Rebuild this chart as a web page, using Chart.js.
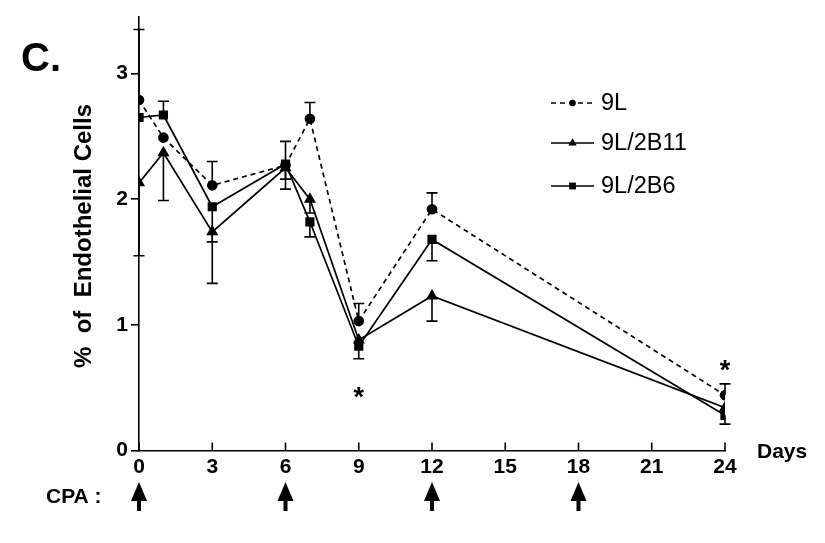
<!DOCTYPE html>
<html>
<head>
<meta charset="utf-8">
<script src="https://cdn.jsdelivr.net/npm/chart.js@4.4.0/dist/chart.umd.min.js"></script>
<style>html,body{margin:0;padding:0;background:#fff}canvas{display:block}</style>
</head>
<body>
<canvas id="c" width="825" height="543"></canvas>
<script>
/* Endothelial cells over CPA schedule, panel C */
const days    = [0, 1, 3, 6, 7, 9, 12, 24];
const xTicks  = [0, 3, 6, 9, 12, 15, 18, 21, 24];
const yTicks  = [0, 1, 2, 3];
const cpaDays = [0, 6, 12, 18];

const val9L   = [2.79, 2.49, 2.11, 2.27, 2.64, 1.03, 1.92, 0.44];
const val2B11 = [2.13, 2.37, 1.74, 2.25, 2.00, 0.88, 1.23, 0.34];
const val2B6  = [2.65, 2.67, 1.94, 2.28, 1.82, 0.83, 1.68, 0.28];

// one-sided error bars as drawn in the figure
const up9L   = [0.56, 0, 0.19, 0, 0.13, 0.14, 0.13, 0.09];
const dn9L   = [0, 0, 0, 0.11, 0, 0, 0, 0];
const up2B11 = [0, 0, 0, 0, 0, 0, 0, 0];
const dn2B11 = [0.58, 0.38, 0.41, 0.17, 0.11, 0, 0.20, 0];
const up2B6  = [0, 0.11, 0, 0.18, 0, 0, 0, 0];
const dn2B6  = [0, 0, 0.28, 0, 0.12, 0.10, 0.17, 0.07];

const starDays = [9, 24];
const starVals = [0.48, 0.70];

const FONT = '"Liberation Sans", Arial, Helvetica, sans-serif';
const series = [
  { label: '9L',      vals: val9L,   up: up9L,   dn: dn9L,   style: 'circle',   r: 5.3, dash: [5, 4] },
  { label: '9L/2B11', vals: val2B11, up: up2B11, dn: dn2B11, style: 'triangle', r: 7,   dash: [] },
  { label: '9L/2B6',  vals: val2B6,  up: up2B6,  dn: dn2B6,  style: 'rect',     r: 6.5, dash: [] },
];

function marker(ctx, style, x, y, r) {
  ctx.beginPath();
  if (style === 'circle') ctx.arc(x, y, r, 0, Math.PI * 2);
  else if (style === 'rect') { const h = r * Math.SQRT1_2; ctx.rect(x - h, y - h, 2 * h, 2 * h); }
  else { ctx.moveTo(x, y - r); ctx.lineTo(x + r * 0.866, y + r * 0.5); ctx.lineTo(x - r * 0.866, y + r * 0.5); ctx.closePath(); }
  ctx.fill();
}

const overlay = {
  id: 'overlay',
  beforeDatasetsDraw(chart) {
    const { ctx, scales: { x, y } } = chart;
    ctx.save();
    ctx.strokeStyle = '#000';
    ctx.lineWidth = 1.6;
    series.forEach(s => {
      s.vals.forEach((v, i) => {
        const px = x.getPixelForValue(days[i]);
        [[s.up[i], 1], [s.dn[i], -1]].forEach(([e, d]) => {
          if (!e) return;
          const y0 = y.getPixelForValue(v), y1 = y.getPixelForValue(v + d * e);
          ctx.beginPath();
          ctx.moveTo(px, y0); ctx.lineTo(px, y1);
          ctx.moveTo(px - 5.5, y1); ctx.lineTo(px + 5.5, y1);
          ctx.stroke();
        });
      });
    });
    // inward x ticks
    const yb = y.getPixelForValue(0);
    xTicks.forEach(t => {
      const px = x.getPixelForValue(t);
      ctx.beginPath(); ctx.moveTo(px, yb); ctx.lineTo(px, yb - 8); ctx.stroke();
    });
    ctx.restore();
  },
  afterDraw(chart) {
    const { ctx, scales: { x, y } } = chart;
    ctx.save();
    ctx.fillStyle = '#000';
    ctx.strokeStyle = '#000';

    // legend
    const rows = [103, 143, 186];
    series.forEach((s, i) => {
      ctx.lineWidth = 1.6;
      ctx.setLineDash(s.dash);
      ctx.beginPath(); ctx.moveTo(551, rows[i]); ctx.lineTo(594, rows[i]); ctx.stroke();
      ctx.setLineDash([]);
      marker(ctx, s.style, 572.5, rows[i], s.style === 'circle' ? 3.3 : 4.8);
      ctx.font = '23.5px ' + FONT;
      ctx.textAlign = 'left'; ctx.textBaseline = 'middle';
      ctx.fillText(s.label, 601, rows[i] + 1);
    });

    // asterisks
    ctx.font = 'bold 27px ' + FONT;
    ctx.textAlign = 'center'; ctx.textBaseline = 'alphabetic';
    starDays.forEach((d, i) => {
      ctx.fillText('*', x.getPixelForValue(d), y.getPixelForValue(starVals[i]) + 16);
    });

    // axis words
    ctx.font = 'bold 21px ' + FONT;
    ctx.textAlign = 'left'; ctx.textBaseline = 'middle';
    ctx.fillText('Days', 757, 452);
    ctx.fillText('CPA :', 46, 497);
    ctx.font = 'bold 40px ' + FONT;
    ctx.fillText('C.', 21, 60);

    ctx.save();
    ctx.translate(84, 236);
    ctx.rotate(-Math.PI / 2);
    ctx.font = 'bold 24px ' + FONT;
    ctx.textAlign = 'center';
    ctx.fillText('%  of  Endothelial Cells', 0, 0);
    ctx.restore();

    // CPA arrows
    cpaDays.forEach(d => {
      const px = x.getPixelForValue(d);
      ctx.beginPath();
      ctx.moveTo(px, 482); ctx.lineTo(px + 8, 501); ctx.lineTo(px - 8, 501); ctx.closePath();
      ctx.fill();
      ctx.fillRect(px - 2, 499, 4, 12);
    });
    ctx.restore();
  }
};

new Chart(document.getElementById('c'), {
  type: 'scatter',
  data: {
    datasets: series.map(s => ({
      label: s.label,
      data: s.vals.map((v, i) => ({ x: days[i], y: v })),
      showLine: true,
      borderColor: '#000',
      borderWidth: 1.7,
      borderDash: s.dash,
      backgroundColor: '#000',
      pointStyle: s.style,
      pointRadius: s.r,
      pointBorderWidth: 0,
      pointBackgroundColor: '#000',
    })),
  },
  options: {
    responsive: false,
    animation: false,
    devicePixelRatio: 1,
    layout: { padding: { top: 17, right: 100, left: 0, bottom: 0 } },
    plugins: { legend: { display: false }, tooltip: { enabled: false } },
    scales: {
      x: {
        type: 'linear', min: 0, max: 24,
        afterBuildTicks: s => { s.ticks = xTicks.map(v => ({ value: v })); },
        afterFit: s => { s.height = 92.5; },
        ticks: { color: '#000', font: { family: FONT, size: 21, weight: 'bold' }, padding: 4, maxRotation: 0 },
        grid: { display: false, drawTicks: false },
        border: { display: true, color: '#000', width: 1.6 },
      },
      y: {
        min: 0, max: 3.45,
        afterBuildTicks: s => { s.ticks = yTicks.map(v => ({ value: v })); },
        afterFit: s => { s.width = 139; },
        ticks: { color: '#000', font: { family: FONT, size: 21, weight: 'bold' }, padding: 3 },
        grid: { display: true, drawOnChartArea: false, drawTicks: true, tickLength: 8, color: '#000', lineWidth: 1.6 },
        border: { display: true, color: '#000', width: 1.6 },
      },
    },
  },
  plugins: [overlay],
});
</script>
</body>
</html>
